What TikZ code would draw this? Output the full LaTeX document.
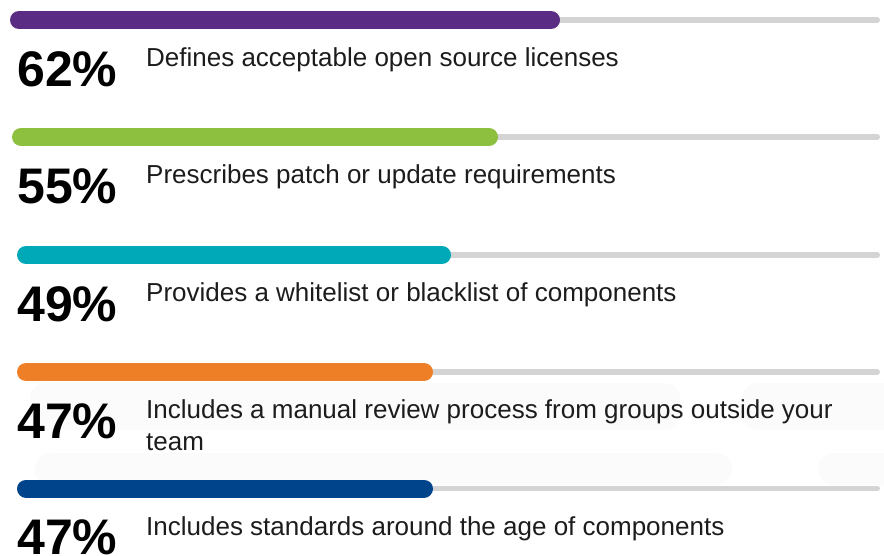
\documentclass[tikz,border=0pt]{standalone}
\usepackage{fontspec}
\setmainfont{Liberation Sans}
\definecolor{cpurple}{HTML}{5B2C83}
\definecolor{cgreen}{HTML}{8DC03F}
\definecolor{cteal}{HTML}{00A9B8}
\definecolor{corange}{HTML}{EE7F26}
\definecolor{cblue}{HTML}{00458C}
\definecolor{ctrack}{HTML}{D4D4D4}
\definecolor{cfaint}{HTML}{FBFBFB}
\definecolor{ctext}{HTML}{1C1C1C}
\tikzset{
  track/.style={draw=ctrack, line width=5.5pt, line cap=round},
  barline/.style={line width=18pt, line cap=round},
  pct/.style={anchor=base west, inner sep=0pt, font=\fontsize{50}{50}\selectfont\bfseries, text=black},
  lbl/.style={anchor=base west, inner sep=0pt, font=\fontsize{26}{32}\selectfont, text=ctext, align=left},
  faint/.style={fill=cfaint, draw=none, rounded corners=16pt}
}
\begin{document}
\begin{tikzpicture}[x=1pt,y=-1pt]
\useasboundingbox (0,0) rectangle (884,555);
% faint background shapes
\fill[faint] (30,383) rectangle (680,430);
\fill[faint] (742,383) rectangle (900,430);
\fill[faint] (35,453) rectangle (732,485);
\fill[faint] (818,453) rectangle (900,485);
% bars
\coordinate (e1) at (877.25,20);
\coordinate (e2) at (877.25,137);
\coordinate (e3) at (877.25,255);
\coordinate (e4) at (877.25,372);
\coordinate (e5) at (877.25,488.5);
\coordinate (s1) at (19,20);   \coordinate (m1) at (551,20);
\coordinate (s2) at (21,137);  \coordinate (m2) at (489,137);
\coordinate (s3) at (26,255);  \coordinate (m3) at (442,255);
\coordinate (s4) at (26,372);  \coordinate (m4) at (424,372);
\coordinate (s5) at (26,488.5);\coordinate (m5) at (424,488.5);
\draw[track] (m1) -- (e1);
\draw[track] (m2) -- (e2);
\draw[track] (m3) -- (e3);
\draw[track] (m4) -- (e4);
\draw[track] (m5) -- (e5);
\draw[barline, cpurple] (s1) -- (m1);
\draw[barline, cgreen] (s2) -- (m2);
\draw[barline, cteal] (s3) -- (m3);
\draw[barline, corange] (s4) -- (m4);
\draw[barline, cblue] (s5) -- (m5);
% percentages
\node[pct] (p1) at (17,86) {62\%};
\node[pct] (p2) at (17,203) {55\%};
\node[pct] (p3) at (17,321) {49\%};
\node[pct] (p4) at (17,438) {47\%};
\node[pct] (p5) at (17,554.5) {47\%};
% labels
\node[lbl] (l1) at (146,66.5) {Defines acceptable open source licenses};
\node[lbl] (l2) at (146,183.5) {Prescribes patch or update requirements};
\node[lbl] (l3) at (146,301.5) {Provides a whitelist or blacklist of components};
\node[lbl] (l4) at (146,450) {Includes a manual review process from groups outside your\\team};
\node[lbl] (l5) at (146,535) {Includes standards around the age of components};
\end{tikzpicture}
\end{document}
